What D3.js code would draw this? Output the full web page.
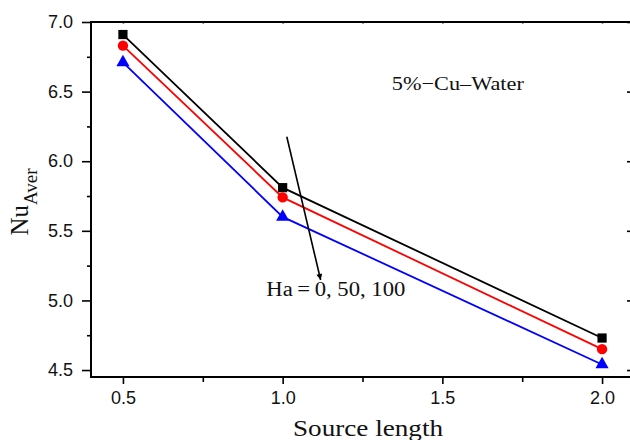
<!DOCTYPE html>
<html lang="en">
<head>
    <meta charset="UTF-8">
    <title>Nu Aver vs Source length</title>
    <script src="https://cdn.jsdelivr.net/npm/d3@7"></script>
    <style>
        body { margin: 0; background: #fff; }
        svg { display: block; }
        .tick text { font-family: "Liberation Sans", Arial, sans-serif; font-size: 18px; fill: #111; }
        .tick line { stroke: #000; stroke-width: 1.6px; }
        .domain { display: none; }
        .serif { font-family: "Liberation Serif", "Times New Roman", serif; fill: #111; }
    </style>
</head>
<body>
<div id="chart"></div>
<script>
// data
let sourceLength = [0.5, 1.0, 2.0]
let haLabels = ['Ha=0', 'Ha=50', 'Ha=100']
let nuHa0 = [6.91, 5.81, 4.73]
let nuHa50 = [6.83, 5.74, 4.65]
let nuHa100 = [6.71, 5.60, 4.54]
let xTicks = [0.5, 1.0, 1.5, 2.0]
let yTicks = [4.5, 5.0, 5.5, 6.0, 6.5, 7.0]
let xMinor = [0.75, 1.25, 1.75]
let yMinor = [4.75, 5.25, 5.75, 6.25, 6.75]

let series = [
    {name: haLabels[0], values: nuHa0, color: '#000', shape: d3.symbolSquare},
    {name: haLabels[1], values: nuHa50, color: '#f00', shape: d3.symbolCircle},
    {name: haLabels[2], values: nuHa100, color: '#00f', shape: d3.symbolTriangle},
]

let width = 630, height = 440
let margin = {left: 91, top: 22, right: 634, bottom: 377}

let svg = d3.select('#chart').append('svg')
    .attr('width', width)
    .attr('height', height)

let x = d3.scaleLinear().domain([0.4, 2.1]).range([margin.left, margin.right])
let y = d3.scaleLinear().domain([4.45, 7.0]).range([margin.bottom, margin.top])

// arrow head
svg.append('defs').append('marker')
    .attr('id', 'head')
    .attr('viewBox', '0 0 10 10')
    .attr('refX', 10).attr('refY', 5)
    .attr('markerWidth', 10).attr('markerHeight', 6)
    .attr('markerUnits', 'userSpaceOnUse')
    .attr('orient', 'auto')
    .append('path').attr('d', 'M0,0L10,5L0,10Z').attr('fill', '#000')

// axes
let axBottom = svg.append('g').attr('transform', `translate(0,${margin.bottom})`)
axBottom.call(d3.axisBottom(x).tickValues(xTicks).tickFormat(d3.format('.1f')).tickSize(7).tickPadding(7))
axBottom.append('g').call(d3.axisBottom(x).tickValues(xMinor).tickFormat('').tickSize(5))

let axLeft = svg.append('g').attr('transform', `translate(${margin.left},0)`)
axLeft.call(d3.axisLeft(y).tickValues(yTicks).tickFormat(d3.format('.1f')).tickSize(9).tickPadding(9))
axLeft.append('g').call(d3.axisLeft(y).tickValues(yMinor).tickFormat('').tickSize(4))

let axRight = svg.append('g').attr('transform', `translate(${margin.right},0)`)
axRight.call(d3.axisLeft(y).tickValues(yTicks).tickFormat('').tickSize(7))
axRight.append('g').call(d3.axisLeft(y).tickValues(yMinor).tickFormat('').tickSize(3))

let axTop = svg.append('g').attr('transform', `translate(0,${margin.top})`)
axTop.call(d3.axisBottom(x).tickValues(xTicks.concat(xMinor)).tickFormat('').tickSize(1.5))

// frame
svg.append('rect')
    .attr('x', margin.left).attr('y', margin.top)
    .attr('width', margin.right - margin.left)
    .attr('height', margin.bottom - margin.top)
    .attr('fill', 'none').attr('stroke', '#000').attr('stroke-width', 2)

// lines and markers
let line = d3.line().x((d, i) => x(sourceLength[i])).y(d => y(d))

let g = svg.append('g').selectAll('g').data(series).enter().append('g')
g.append('path')
    .attr('d', d => line(d.values))
    .attr('fill', 'none')
    .attr('stroke', d => d.color)
    .attr('stroke-width', 1.8)
g.selectAll('path.pt').data(d => d.values.map((v, i) => ({v: v, i: i, s: d}))).enter()
    .append('path').attr('class', 'pt')
    .attr('transform', d => `translate(${x(sourceLength[d.i])},${y(d.v)})`)
    .attr('d', d => d3.symbol().type(d.s.shape).size(d.s.shape === d3.symbolTriangle ? 75 : 85)())
    .attr('fill', d => d.s.color)

// annotations
svg.append('line')
    .attr('x1', x(1.013)).attr('y1', y(6.176))
    .attr('x2', x(1.119)).attr('y2', y(5.147))
    .attr('stroke', '#000').attr('stroke-width', 1.6)
    .attr('marker-end', 'url(#head)')

svg.append('text').attr('class', 'serif')
    .attr('x', x(1.342)).attr('y', y(6.51))
    .attr('font-size', 19)
    .attr('textLength', 132).attr('lengthAdjust', 'spacingAndGlyphs')
    .text('5%\u2212Cu\u2013Water')

svg.append('text').attr('class', 'serif')
    .attr('x', x(0.949)).attr('y', y(5.03))
    .attr('font-size', 20)
    .attr('textLength', 139).attr('lengthAdjust', 'spacingAndGlyphs')
    .text('Ha\u2009=\u20090, 50, 100')

// axis titles
svg.append('text').attr('class', 'serif')
    .attr('x', 368).attr('y', 436)
    .attr('text-anchor', 'middle')
    .attr('font-size', 23)
    .attr('textLength', 150).attr('lengthAdjust', 'spacingAndGlyphs')
    .text('Source length')

let yl = svg.append('text').attr('class', 'serif')
    .attr('transform', 'translate(28,202) rotate(-90)')
    .attr('text-anchor', 'middle')
    .attr('font-size', 25)
yl.append('tspan').text('Nu')
yl.append('tspan').attr('font-size', 19).attr('dy', 9).text('Aver')
</script>
</body>
</html>
